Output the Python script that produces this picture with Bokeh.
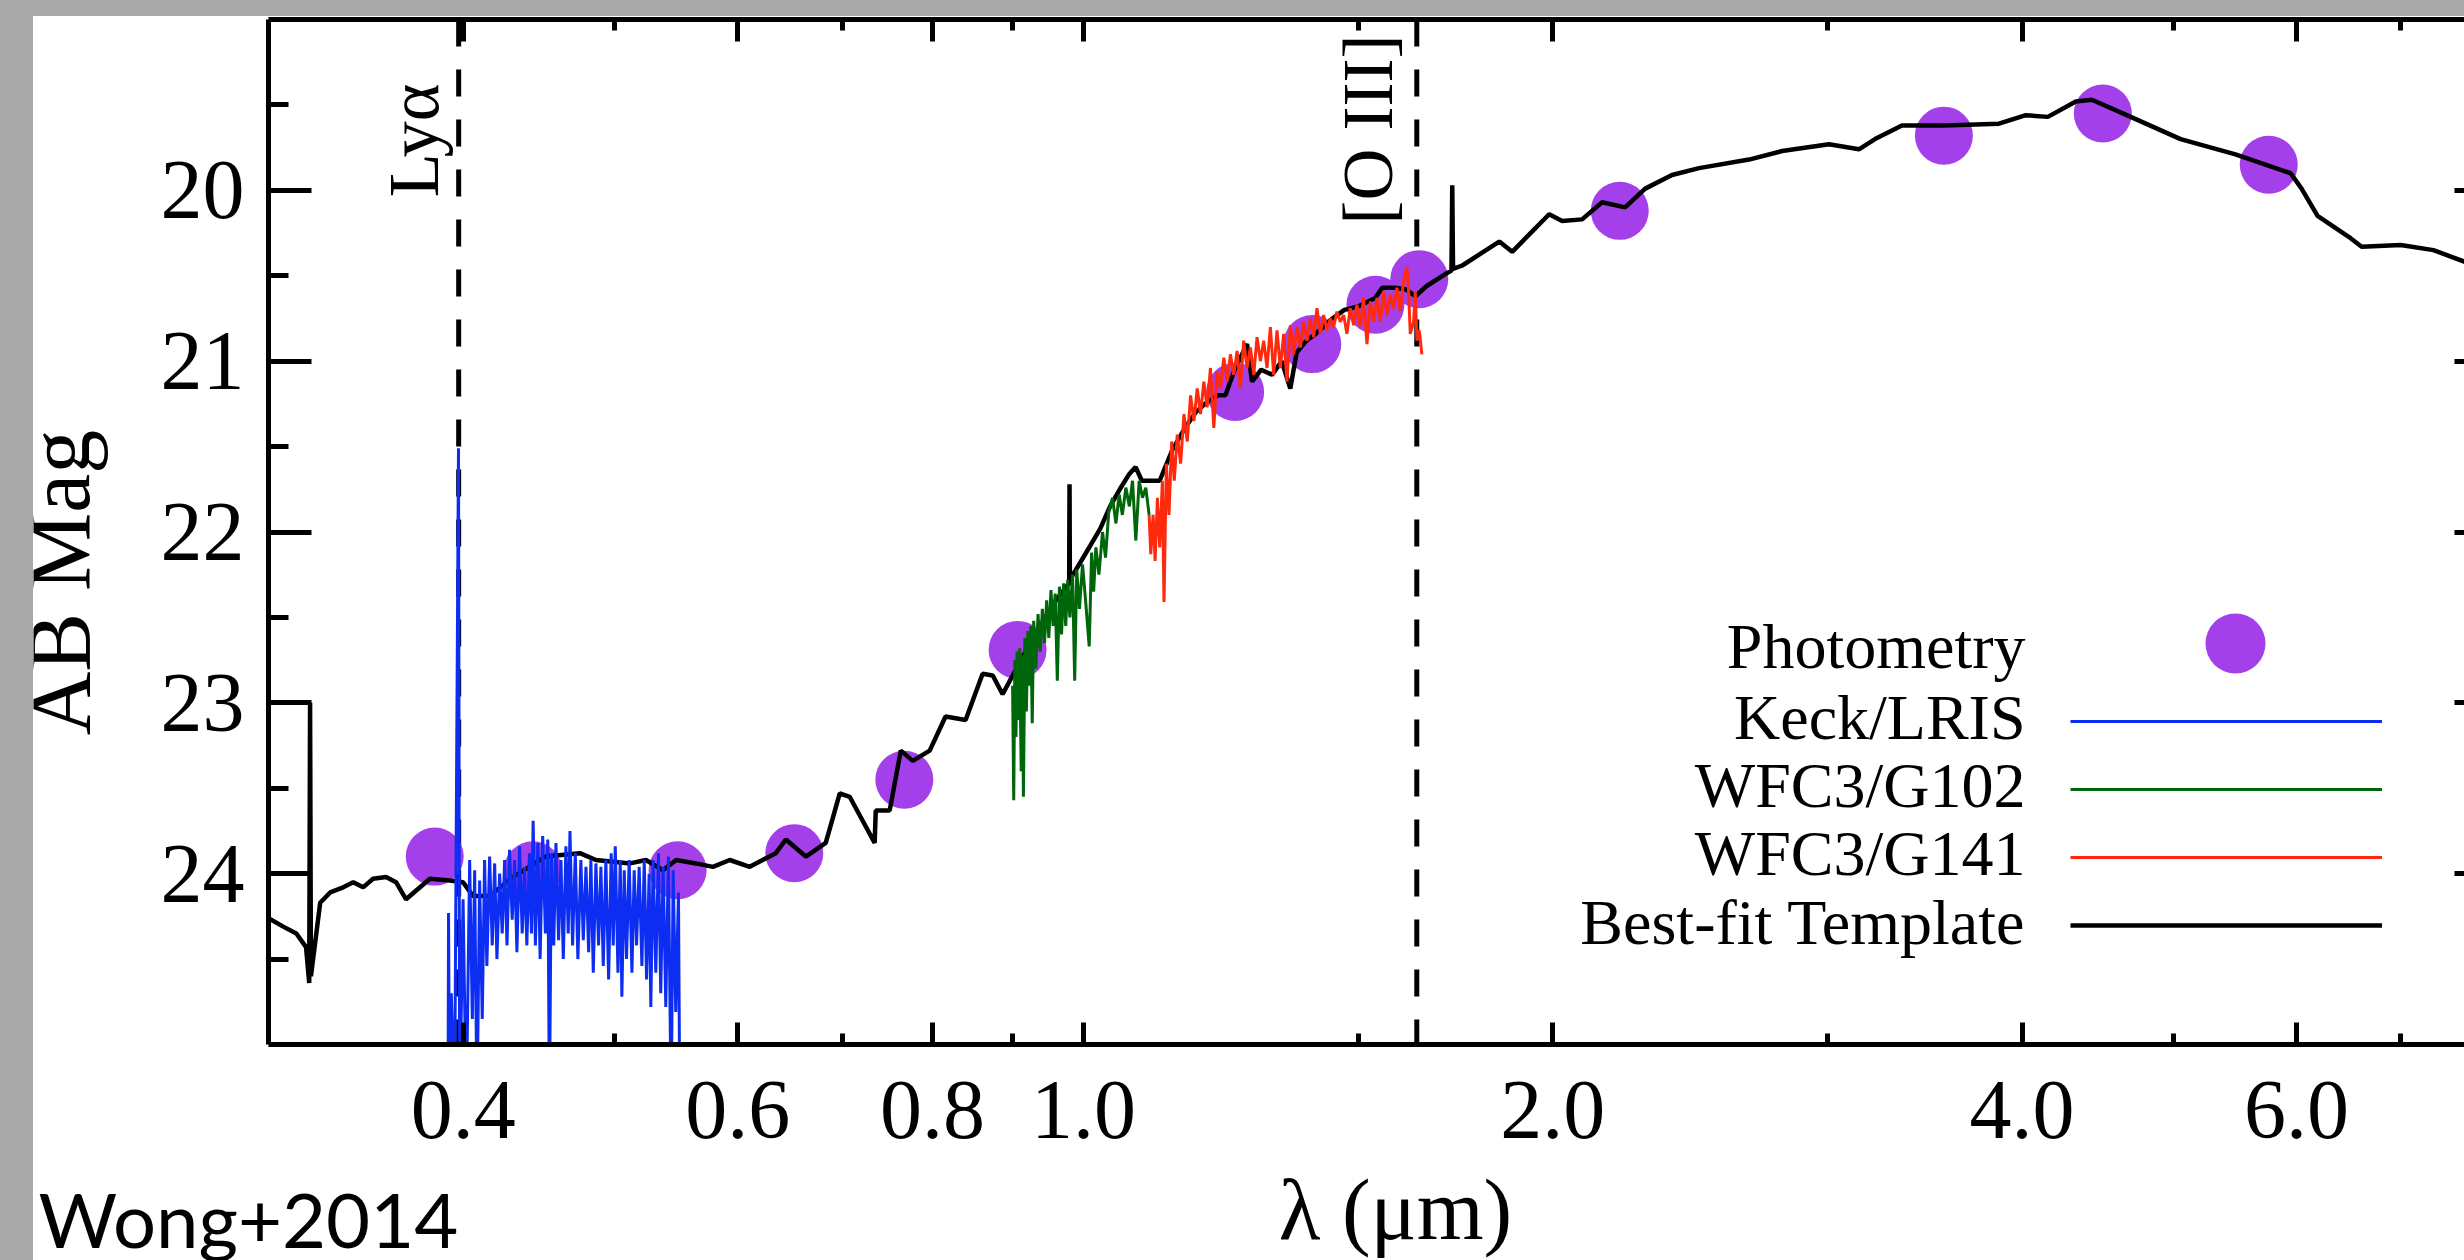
import math
from bokeh.plotting import figure
from bokeh.models import (Range1d, LogAxis, LinearAxis, FixedTicker, NumeralTickFormatter,
                          CustomJSTickFormatter, Span, Label, Legend, LegendItem, Spacer)
from bokeh.layouts import column, row
from bokeh.embed import file_html
from bokeh.resources import INLINE
from bokeh.core.properties import value

# ------------------------------------------------------------------ data
X_MAJOR = [0.4, 0.6, 0.8, 1.0, 2.0, 4.0, 6.0]
X_MINOR = [0.5, 0.7, 0.9, 1.5, 3.0, 5.0, 7.0]
Y_MAJOR = [20, 21, 22, 23, 24]
Y_MINOR = [19.5, 20.5, 21.5, 22.5, 23.5, 24.5]

LINE_NAMES = ["Lyα", "[O III]"]
LINE_WAVE = [0.3973, 1.636]
LINE_LABEL_MAG = [20.04, 20.20]

X_TITLE = "λ (μm)"
Y_TITLE = "AB Mag"
CREDIT = "Wong+2014"
LEGEND_LABELS = ["Photometry", "Keck/LRIS", "WFC3/G102", "WFC3/G141", "Best-fit Template"]

PHOT_WAVE = [0.3835, 0.4433, 0.5490, 0.6523, 0.7674, 0.9072, 1.2510,
             1.4020, 1.5390, 1.6420, 2.2080, 3.5640, 4.5070, 5.7590]
PHOT_MAG = [23.90, 23.98, 23.98, 23.88, 23.45, 22.69, 21.18,
            20.90, 20.67, 20.52, 20.12, 19.68, 19.55, 19.85]

KECK = [
    (0.3911, 25.4), (0.3914, 24.23), (0.3920, 25.4), (0.3930, 24.70), (0.3949, 25.4),
    (0.3972, 21.51), (0.3979, 25.4), (0.3999, 24.15), (0.4018, 25.4), (0.4038, 23.92),
    (0.4054, 24.85), (0.4068, 23.98), (0.4082, 25.4), (0.4098, 24.04), (0.4114, 24.85),
    (0.4128, 23.92), (0.4142, 24.54), (0.4159, 23.90), (0.4175, 24.42), (0.4190, 23.94),
    (0.4204, 24.50), (0.4221, 24.00), (0.4237, 24.35), (0.4252, 23.92), (0.4267, 24.42),
    (0.4283, 23.86), (0.4300, 24.27), (0.4315, 23.92), (0.4330, 24.46), (0.4347, 23.84),
    (0.4364, 24.35), (0.4379, 23.96), (0.4394, 24.42), (0.4411, 23.88), (0.4424, 24.35),
    (0.4435, 23.69), (0.4450, 24.42), (0.4466, 23.82), (0.4481, 24.50), (0.4498, 23.78),
    (0.4516, 24.35), (0.4532, 23.80), (0.4543, 25.4), (0.4556, 23.88), (0.4572, 24.42),
    (0.4587, 23.82), (0.4605, 24.39), (0.4621, 23.92), (0.4637, 24.50), (0.4655, 23.84),
    (0.4671, 24.35), (0.4683, 23.75), (0.4701, 24.42), (0.4720, 23.88), (0.4738, 24.50),
    (0.4759, 23.92), (0.4776, 24.39), (0.4795, 23.96), (0.4814, 24.46), (0.4830, 23.92),
    (0.4847, 24.58), (0.4866, 23.94), (0.4885, 24.42), (0.4902, 23.96), (0.4919, 24.54),
    (0.4938, 23.92), (0.4958, 24.62), (0.4977, 23.88), (0.4992, 24.42), (0.5007, 23.84),
    (0.5027, 24.58), (0.5044, 23.92), (0.5056, 24.72), (0.5074, 23.98), (0.5091, 24.50),
    (0.5111, 23.92), (0.5132, 24.58), (0.5149, 23.98), (0.5167, 24.42), (0.5187, 23.96),
    (0.5208, 24.54), (0.5226, 23.92), (0.5244, 24.62), (0.5264, 24.00), (0.5277, 24.78),
    (0.5295, 23.92), (0.5316, 24.58), (0.5337, 23.88), (0.5355, 24.70), (0.5374, 23.96),
    (0.5395, 24.78), (0.5416, 23.90), (0.5438, 25.4), (0.5454, 23.98), (0.5475, 24.81),
    (0.5497, 24.11), (0.5508, 25.4),
]

G102 = [
    (0.9005, 22.90), (0.9020, 23.57), (0.9035, 22.75), (0.9050, 23.20), (0.9065, 22.70),
    (0.9080, 23.10), (0.9100, 22.68), (0.9120, 23.40), (0.9135, 22.72), (0.9150, 23.55),
    (0.9170, 22.62), (0.9190, 23.05), (0.9210, 22.58), (0.9229, 22.90), (0.9250, 22.55),
    (0.9270, 23.12), (0.9290, 22.52), (0.9320, 22.80), (0.9350, 22.48), (0.9380, 22.70),
    (0.9410, 22.45), (0.9440, 22.65), (0.9470, 22.40), (0.9500, 22.62), (0.9530, 22.34),
    (0.9560, 22.55), (0.9590, 22.36), (0.9620, 22.87), (0.9650, 22.32), (0.9680, 22.60),
    (0.9710, 22.30), (0.9740, 22.55), (0.9770, 22.28), (0.9800, 22.50), (0.9839, 22.25),
    (0.9870, 22.87), (0.9900, 22.22), (0.9940, 22.45), (0.9985, 22.19), (1.0030, 22.40),
    (1.0084, 22.67), (1.0120, 22.12), (1.0150, 22.35), (1.0184, 22.09), (1.0230, 22.25),
    (1.0284, 22.00), (1.0330, 22.15), (1.0380, 21.88), (1.0437, 21.80), (1.0490, 21.95),
    (1.0540, 21.78), (1.0590, 21.90), (1.0645, 21.74), (1.0700, 21.85), (1.0750, 21.70),
    (1.0803, 22.05), (1.0856, 21.70), (1.0910, 21.80), (1.0963, 21.74), (1.1017, 21.90),
]

G141 = [
    (1.1017, 21.90), (1.1044, 22.13), (1.1082, 21.90), (1.1115, 22.17), (1.1153, 21.80),
    (1.1191, 22.09), (1.1235, 21.70), (1.1262, 22.41), (1.1301, 21.60), (1.1345, 21.90),
    (1.1390, 21.47), (1.1434, 21.70), (1.1485, 21.43), (1.1542, 21.60), (1.1599, 21.31),
    (1.1656, 21.47), (1.1713, 21.20), (1.1771, 21.35), (1.1829, 21.16), (1.1886, 21.31),
    (1.1945, 21.12), (1.2003, 21.27), (1.2062, 21.04), (1.2122, 21.39), (1.2181, 21.06),
    (1.2241, 21.16), (1.2302, 20.98), (1.2362, 21.12), (1.2423, 20.96), (1.2484, 21.08),
    (1.2546, 20.94), (1.2608, 21.16), (1.2669, 20.88), (1.2732, 21.04), (1.2795, 20.92),
    (1.2858, 21.08), (1.2921, 20.86), (1.2985, 21.00), (1.3049, 20.88), (1.3113, 21.04),
    (1.3178, 20.80), (1.3243, 21.08), (1.3308, 20.82), (1.3374, 21.04), (1.3439, 20.84),
    (1.3506, 21.12), (1.3572, 20.79), (1.3639, 20.96), (1.3707, 20.80), (1.3774, 20.92),
    (1.3842, 20.77), (1.3910, 20.88), (1.3979, 20.75), (1.4048, 20.86), (1.4117, 20.69),
    (1.4187, 20.84), (1.4257, 20.73), (1.4327, 20.82), (1.4398, 20.75), (1.4469, 20.80),
    (1.4540, 20.71), (1.4612, 20.77), (1.4684, 20.73), (1.4756, 20.84), (1.4829, 20.69),
    (1.4902, 20.79), (1.4976, 20.67), (1.5050, 20.80), (1.5124, 20.63), (1.5199, 20.90),
    (1.5274, 20.65), (1.5349, 20.77), (1.5425, 20.63), (1.5501, 20.77), (1.5577, 20.59),
    (1.5654, 20.73), (1.5731, 20.61), (1.5809, 20.69), (1.5887, 20.57), (1.5965, 20.71),
    (1.6044, 20.53), (1.6123, 20.45), (1.6163, 20.59), (1.6203, 20.84), (1.6283, 20.77),
    (1.6323, 20.59), (1.6363, 20.88), (1.6420, 20.82), (1.6484, 20.96),
]

TEMPLATE = [
    (0.3000, 24.26), (0.3066, 24.31), (0.3126, 24.35), (0.3171, 24.43), (0.3186, 24.64),
    (0.3190, 23.00), (0.3194, 24.60), (0.3238, 24.17), (0.3286, 24.11), (0.3350, 24.08),
    (0.3400, 24.05), (0.3450, 24.08), (0.3501, 24.03), (0.3569, 24.02), (0.3622, 24.05),
    (0.3676, 24.15), (0.3730, 24.10), (0.3808, 24.03), (0.3922, 24.04), (0.3998, 24.05),
    (0.4058, 24.13), (0.4161, 24.13), (0.4305, 24.02), (0.4518, 23.90), (0.4752, 23.88),
    (0.4866, 23.92), (0.5117, 23.94), (0.5239, 23.92), (0.5373, 23.98), (0.5478, 23.92),
    (0.5642, 23.94), (0.5784, 23.96), (0.5930, 23.92), (0.6107, 23.96), (0.6225, 23.92),
    (0.6347, 23.88), (0.6442, 23.80), (0.6635, 23.90), (0.6833, 23.82), (0.6976, 23.53),
    (0.7079, 23.55), (0.7216, 23.69), (0.7345, 23.82), (0.7357, 23.63), (0.7510, 23.63),
    (0.7634, 23.28), (0.7770, 23.34), (0.7967, 23.28), (0.8156, 23.08), (0.8401, 23.10),
    (0.8615, 22.83), (0.8745, 22.84), (0.8873, 22.95), (0.9140, 22.73), (0.9316, 22.60),
    (0.9450, 22.50), (0.9600, 22.40), (0.9750, 22.32), (0.9790, 22.30), (0.9795, 21.72),
    (0.9800, 22.28), (0.9950, 22.18), (1.0100, 22.08), (1.0250, 21.98), (1.0400, 21.85),
    (1.0550, 21.75), (1.0700, 21.66), (1.0800, 21.62), (1.0900, 21.70), (1.1000, 21.70),
    (1.1190, 21.70), (1.1400, 21.52), (1.1600, 21.40), (1.1800, 21.30), (1.2000, 21.24),
    (1.2200, 21.20), (1.2332, 21.20), (1.2500, 21.05), (1.2732, 20.90), (1.2826, 21.12),
    (1.3000, 21.05), (1.3210, 21.08), (1.3400, 21.00), (1.3572, 21.16), (1.3700, 20.95),
    (1.3900, 20.88), (1.4090, 20.84), (1.4400, 20.76), (1.4700, 20.70), (1.5000, 20.68),
    (1.5387, 20.63), (1.5545, 20.57), (1.5848, 20.57), (1.6100, 20.58), (1.6325, 20.62),
    (1.6600, 20.56), (1.7064, 20.49), (1.7220, 20.47), (1.7240, 19.97), (1.7260, 20.46),
    (1.7497, 20.44), (1.8480, 20.30), (1.8836, 20.36), (1.9893, 20.14), (2.0280, 20.18),
    (2.0885, 20.17), (2.1511, 20.07), (2.2254, 20.10), (2.2925, 19.99), (2.3853, 19.91),
    (2.4823, 19.87), (2.6727, 19.82), (2.8063, 19.77), (3.0077, 19.73), (3.1437, 19.76),
    (3.2191, 19.70), (3.3497, 19.62), (3.5645, 19.62), (3.8660, 19.61), (4.0231, 19.56),
    (4.1558, 19.57), (4.3308, 19.48), (4.4347, 19.47), (4.6966, 19.57), (5.0559, 19.70),
    (5.4828, 19.79), (5.9484, 19.90), (6.0450, 19.99), (6.1896, 20.15), (6.4989, 20.28),
    (6.6060, 20.33), (6.9981, 20.32), (7.3451, 20.35), (7.7015, 20.42), (8.0000, 20.50),
]

# ------------------------------------------------------------------ style
PURPLE = "#a440ea"
BLUE = "#0d2ef2"
GREEN = "#00660a"
RED = "#ff2a0e"
GREY = "#a9a9a9"
SERIF = "Liberation Serif"

# main plot: page x 130..2464, y 16..1177; frame at x 268, y 19..1044
p = figure(width=2334, height=1161, x_axis_type="log",
           x_range=Range1d(0.30, 7.69), y_range=Range1d(25.0, 19.0),
           output_backend="svg", toolbar_location=None,
           min_border_left=138, min_border_right=0, min_border_top=3, min_border_bottom=133,
           background_fill_color="white", border_fill_color="white")
p.outline_line_color = None
p.grid.visible = False

BLANK = CustomJSTickFormatter(code="return ''")


def style_axis(ax, major, minor, t_major, t_minor, labels, standoff=0):
    ax.ticker = FixedTicker(ticks=major, minor_ticks=minor)
    ax.axis_line_color = "black"
    ax.axis_line_width = 5
    ax.major_tick_line_color = "black"
    ax.minor_tick_line_color = "black"
    ax.major_tick_line_width = 5
    ax.minor_tick_line_width = 5
    ax.major_tick_in = t_major
    ax.major_tick_out = 0
    ax.minor_tick_in = t_minor
    ax.minor_tick_out = 0
    if labels:
        ax.major_label_text_font = SERIF
        ax.major_label_text_font_size = "84px"
        ax.major_label_text_color = "black"
        ax.major_label_standoff = standoff
    else:
        ax.formatter = BLANK
        ax.major_label_text_font_size = "1px"
        ax.major_label_standoff = 0


xb = p.xaxis[0]
style_axis(xb, X_MAJOR, X_MINOR, 22, 11, True, 37)
xb.formatter = NumeralTickFormatter(format="0.0")
yl = p.yaxis[0]
style_axis(yl, Y_MAJOR, Y_MINOR, 43, 20, True, 24)

xt = LogAxis()
style_axis(xt, X_MAJOR, X_MINOR, 22, 11, False)
p.add_layout(xt, "above")
yr = LinearAxis()
style_axis(yr, Y_MAJOR, [], 10, 0, False)
yr.axis_line_alpha = 0
p.add_layout(yr, "right")

# dashed emission line markers
for w in LINE_WAVE:
    p.add_layout(Span(location=w, dimension="height", line_color="black",
                      line_width=5, line_dash="27 23", level="underlay"))

# data
r_phot = p.scatter(PHOT_WAVE, PHOT_MAG, marker="circle", size=58,
                   fill_color=PURPLE, line_color=None)
tw, tm = zip(*TEMPLATE)
r_tmpl = p.line(list(tw), list(tm), line_color="black", line_width=4.5)
kw, km = zip(*KECK)
r_keck = p.line(list(kw), list(km), line_color=BLUE, line_width=3)
gw, gm = zip(*G102)
r_g102 = p.line(list(gw), list(gm), line_color=GREEN, line_width=3)
rw, rm = zip(*G141)
r_g141 = p.line(list(rw), list(rm), line_color=RED, line_width=3)

# line labels (rotated, just left of the dashed markers)
for name, w, m, off in zip(LINE_NAMES, LINE_WAVE, LINE_LABEL_MAG, [-45, -49]):
    p.add_layout(Label(x=w, y=m, x_offset=off, text=name, angle=math.pi / 2,
                       text_align="left", text_baseline="alphabetic",
                       text_font=SERIF, text_font_size="72px", text_color="black"))


# legends (glyph keys), labels drawn to their left
def make_legend(items, loc, gwid, ghei):
    return Legend(items=items, location=loc, glyph_width=gwid, glyph_height=ghei,
                  label_width=0, label_height=0, label_standoff=0, padding=0,
                  spacing=0, margin=0, border_line_color=None,
                  background_fill_alpha=0, label_text_font_size="40px")


leg1 = make_legend([LegendItem(label=value(" "), renderers=[r_phot])], (1892, 326), 150, 150)
leg2 = make_legend([LegendItem(label=value(" "), renderers=[r]) for r in
                    (r_keck, r_g102, r_g141, r_tmpl)], (1802, 85), 312, 68)
p.add_layout(leg1)
p.add_layout(leg2)

for txt, yy in zip(LEGEND_LABELS, [398, 327, 259, 191, 122]):
    p.add_layout(Label(x=1757, y=yy, x_units="screen", y_units="screen", text=txt,
                       text_align="right", text_baseline="alphabetic",
                       text_font=SERIF, text_font_size="64px", text_color="black"))


# text strips (left: y title; bottom: x title and credit)
def text_strip(w, h):
    f = figure(width=w, height=h, x_range=Range1d(0, 1), y_range=Range1d(0, 1),
               output_backend="svg", toolbar_location=None,
               x_axis_location=None, y_axis_location=None,
               min_border=0, min_border_left=0, min_border_right=0,
               min_border_top=0, min_border_bottom=0,
               background_fill_color="white", border_fill_color="white")
    f.outline_line_color = None
    f.grid.visible = False
    return f


# the left strip's frame is aligned with the main frame (bottom at page y ~1042)
left = text_strip(97, 1161)          # page x 33..130, y 16..1177
left.add_layout(Label(x=26, y=462, x_units="screen", y_units="screen", text=Y_TITLE,
                      angle=math.pi / 2, text_align="center", text_baseline="alphabetic",
                      text_font=SERIF, text_font_size="88px", text_color="black"))

bottom = text_strip(2431, 83)        # page x 33..2464, y 1177..1260
bottom.add_layout(Label(x=1362, y=51, x_units="screen", y_units="screen", text=X_TITLE,
                        text_align="center", text_baseline="alphabetic",
                        text_font=SERIF, text_font_size="86px", text_color="black"))
bottom.add_layout(Label(x=5, y=42, x_units="screen", y_units="screen", text=CREDIT,
                        text_align="left", text_baseline="alphabetic",
                        text_font="Lato", text_font_size="76px", text_color="black"))

page = column(
    Spacer(width=2464, height=16, styles={"background-color": GREY}),
    row(Spacer(width=33, height=1244, styles={"background-color": GREY}),
        column(row(left, p), bottom)),
)

open("out.html", "w").write(file_html(page, INLINE))
